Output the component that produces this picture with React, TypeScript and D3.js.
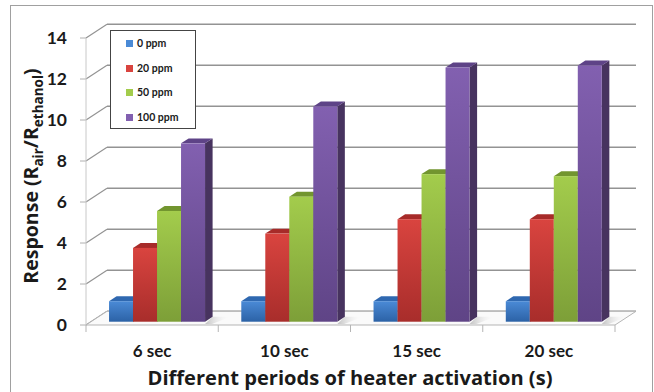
import React from "react";
import * as d3 from "d3";

const categories = ["6 sec", "10 sec", "15 sec", "20 sec"];
const seriesNames = ["0 ppm", "20 ppm", "50 ppm", "100 ppm"];
const values0 = [1.0, 1.0, 1.0, 1.0];
const values20 = [3.6, 4.3, 5.0, 5.0];
const values50 = [5.4, 6.1, 7.2, 7.1];
const values100 = [8.7, 10.5, 12.4, 12.5];
const yTicks = [0, 2, 4, 6, 8, 10, 12, 14];

const seriesValues = [values0, values20, values50, values100];
const palette = [
  { light: "#4a8ad6", dark: "#2c62a6", side: "#234f88", top: "#2f68b0" },
  { light: "#d9443f", dark: "#a82d2b", side: "#8a2222", top: "#a72b29" },
  { light: "#a3cc4c", dark: "#7d9f38", side: "#5f7c29", top: "#72952f" },
  { light: "#8260b0", dark: "#5f4486", side: "#47335f", top: "#5e4387" },
];

const DX = 21;
const DY = -13.7;
const F1 = 0.24;
const F2 = 0.6;

export default function App() {
  const x = d3.scaleBand<string>().domain(categories).range([86, 615]);
  const xs = d3.scaleBand<string>().domain(seriesNames).range([18, 114]);
  const y = d3.scaleLinear().domain([0, 14]).range([325, 38]);
  const grey = "#939393";

  const bars: JSX.Element[] = [];
  categories.forEach((c, ci) => {
    seriesNames.forEach((s, si) => {
      const v = seriesValues[si][ci];
      const x0 = (x(c) as number) + (xs(s) as number);
      const w = xs.bandwidth();
      const fx = x0 + F1 * DX;
      const fyB = y(0) + F1 * DY;
      const fyT = y(v) + F1 * DY;
      const bx = (F2 - F1) * DX;
      const by = (F2 - F1) * DY;
      const col = palette[si];
      bars.push(
        <g key={`${ci}-${si}`}>
          <polygon
            points={`${fx + w},${fyT} ${fx + w + bx},${fyT + by} ${fx + w + bx},${fyB + by} ${fx + w},${fyB}`}
            fill={col.side}
          />
          <polygon
            points={`${fx},${fyT} ${fx + bx},${fyT + by} ${fx + w + bx},${fyT + by} ${fx + w},${fyT}`}
            fill={col.top}
          />
          <rect x={fx} y={fyT} width={w} height={fyB - fyT} fill={`url(#g${si})`} />
        </g>
      );
    });
  });

  return (
    <svg width={654} height={392} style={{ position: "absolute", left: 0, top: 0 }} fontFamily="Lato, 'Open Sans', sans-serif">
      <defs>
        {palette.map((p, i) => (
          <linearGradient key={i} id={`g${i}`} x1="0" y1="0" x2="0" y2="1">
            <stop offset="0" stopColor={p.light} />
            <stop offset="1" stopColor={p.dark} />
          </linearGradient>
        ))}
        <linearGradient id="shadow" x1="0" y1="0" x2="1" y2="0">
          <stop offset="0" stopColor="#9a9a9a" stopOpacity="0.6" />
          <stop offset="1" stopColor="#ffffff" stopOpacity="0" />
        </linearGradient>
      </defs>
      <rect x={0} y={0} width={654} height={392} fill="#ffffff" />
      <rect x={10.5} y={5.5} width={642} height={400} fill="none" stroke="#a0a0a0" strokeWidth={1} />

      {/* back wall gridlines + left wall diagonals */}
      {yTicks.map((t) => (
        <g key={t}>
          <line x1={86 + DX} x2={636} y1={y(t) + DY} y2={y(t) + DY} stroke={grey} strokeWidth={1.5} />
          <line x1={86} x2={86 + DX} y1={y(t)} y2={y(t) + DY} stroke={grey} strokeWidth={1.2} />
          <line x1={80} x2={86} y1={y(t)} y2={y(t)} stroke="#b0b0b0" strokeWidth={1} />
          <text x={67} y={y(t)} dy="0.35em" textAnchor="end" fontSize={17.5} fontWeight="bold" fill="#1a1a1a">
            {t}
          </text>
        </g>
      ))}
      <line x1={86} x2={86} y1={y(14)} y2={y(0)} stroke="#c8c8c8" strokeWidth={1} />

      {/* floor */}
      <polygon
        points={`86,${y(0)} ${86 + DX},${y(0) + DY} ${636},${y(0) + DY} ${615},${y(0)}`}
        fill="#fafafa"
        stroke="#b5b5b5"
        strokeWidth={1}
      />
      {categories.map((c) => (
        <polygon
          key={c}
          points={`${(x(c) as number) + 114 + F1 * DX + (F2 - F1) * DX},${y(0) + F2 * DY} ${(x(c) as number) + 132 + F2 * DX},${y(0) + F2 * DY} ${(x(c) as number) + 126},${y(0) - 1} ${(x(c) as number) + 114 + F1 * DX},${y(0) - 1}`}
          fill="url(#shadow)"
        />
      ))}
      {[...categories.map((c) => x(c) as number), 615].map((t, i) => (
        <line key={i} x1={t} x2={t} y1={y(0)} y2={y(0) + 7} stroke="#b5b5b5" strokeWidth={1} />
      ))}

      {bars}

      {/* category labels */}
      {categories.map((c) => (
        <text
          key={c}
          x={(x(c) as number) + x.bandwidth() / 2}
          y={357}
          textAnchor="middle"
          fontSize={17}
          fontWeight="bold"
          fill="#1a1a1a"
        >
          {c}
        </text>
      ))}
      <text
        x={350}
        y={385}
        textAnchor="middle"
        fontSize={20}
        fontWeight="bold"
        fill="#1a1a1a"
        fontFamily="'Open Sans', sans-serif"
        textLength={405}
        lengthAdjust="spacingAndGlyphs"
      >
        Different periods of heater activation (s)
      </text>
      <text
        transform="translate(38,176) rotate(-90)"
        textAnchor="middle"
        fontSize={19.5}
        fontWeight="bold"
        fill="#1a1a1a"
        fontFamily="'Open Sans', sans-serif"
      >
        Response (R
        <tspan dy={5} fontSize={13.5}>air</tspan>
        <tspan dy={-5}>/R</tspan>
        <tspan dy={5} fontSize={13.5}>ethanol</tspan>
        <tspan dy={-5}>)</tspan>
      </text>

      {/* legend */}
      <rect x={110.5} y={30.5} width={85} height={98} fill="#ffffff" stroke="#444" strokeWidth={1} />
      {seriesNames.map((s, i) => (
        <g key={s}>
          <rect x={126} y={[43, 68, 92, 117][i] - 3} width={7} height={7} fill={palette[i].light} />
          <text x={137} y={[43, 68, 92, 117][i]} dy="0.35em" fontSize={10.5} fontWeight="bold" fill="#1a1a1a">
            {s}
          </text>
        </g>
      ))}
    </svg>
  );
}
